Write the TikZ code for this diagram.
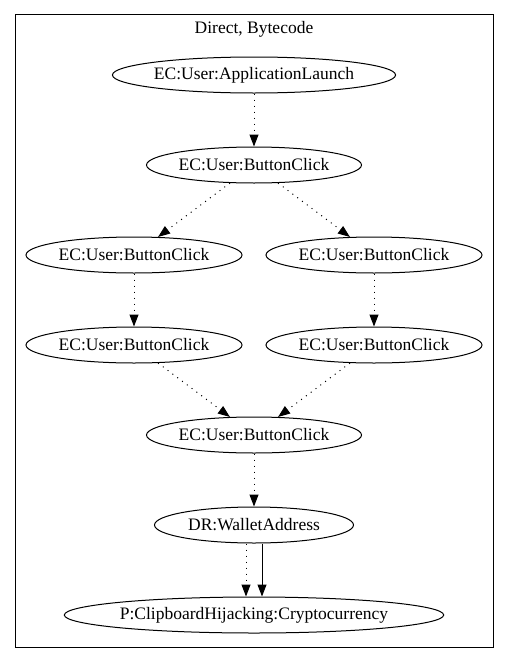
\documentclass[tikz,border=0pt]{standalone}
\usepackage{fontspec}
\setmainfont{Liberation Serif}
\usetikzlibrary{shapes.geometric,arrows.meta}

\tikzset{
    event/.style={draw,ellipse,inner sep=0pt,minimum height=36pt,font=\fontsize{17.5}{20}\selectfont},
    flow/.style={line width=1pt,dash pattern=on 1pt off 5pt,-{Triangle[length=12pt,width=9pt]}},
    strong/.style={line width=1pt,-{Triangle[length=12pt,width=9pt]}}
}

\begin{document}
\begin{tikzpicture}[x=1pt,y=-1pt,line width=1pt]
            \useasboundingbox (0,0) rectangle (508,664);
            \draw (15,14) rectangle (493,647);
            \node[font=\fontsize{17.5}{20}\selectfont] (title) at (254,29) {Direct, Bytecode};

            \node[event,minimum width=282pt] (launch) at (254,75) {EC:User:ApplicationLaunch};
            \node[event,minimum width=215pt] (click) at (254,165) {EC:User:ButtonClick};

            \foreach \side/\x in {l/134,r/374} {
                \node[event,minimum width=216pt] (click\side1) at (\x,255) {EC:User:ButtonClick};
                \node[event,minimum width=216pt] (click\side2) at (\x,345) {EC:User:ButtonClick};
                \draw[flow] (click) -- (click\side1);
                \draw[flow] (click\side1) -- (click\side2);
            }

            \node[event,minimum width=215pt] (merge) at (254,435) {EC:User:ButtonClick};
            \node[event,minimum width=199pt] (wallet) at (254,525) {DR:WalletAddress};
            \node[event,minimum width=365pt] (hijack) at (254,615) {P:ClipboardHijacking:Cryptocurrency};

            \draw[flow] (launch) -- (click);
            \draw[flow] (clickl2) -- (merge);
            \draw[flow] (clickr2) -- (merge);
            \draw[flow] (merge) -- (wallet);
            \draw[flow] ([xshift=-8pt]wallet.south) -- ([xshift=-8pt]hijack.north);
            \draw[strong] ([xshift=8pt]wallet.south) -- ([xshift=8pt]hijack.north);
        \end{tikzpicture}
\end{document}
